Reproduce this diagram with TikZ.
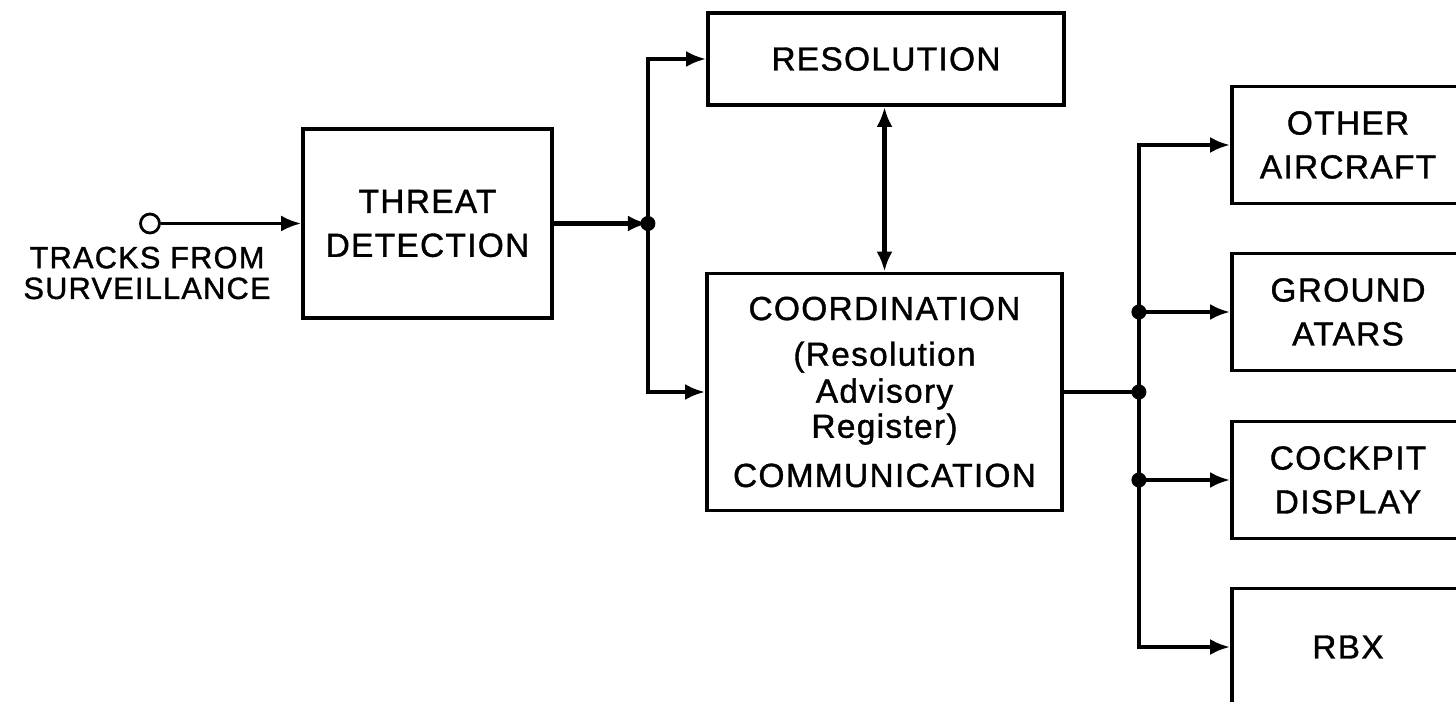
\documentclass[tikz,border=0pt]{standalone}
\usepackage{fontspec}
\setmainfont{Liberation Sans}[LetterSpace=4.0,FakeBold=1.2]
\usetikzlibrary{arrows.meta}
\tikzset{
  blk/.style={draw,line width=2.2pt,align=center,inner sep=2pt,
    font=\fontsize{19}{25}\selectfont},
  sink/.style={blk,minimum width=4.64cm,minimum height=2.34cm},
  conn/.style={line width=2.4pt,->},
  jdot/.style={circle,fill,inner sep=0pt,minimum size=0.3cm},
}

\begin{document}
\begin{tikzpicture}[x=0.02cm,y=-0.02cm,>={Latex[length=4mm,width=3.2mm]}]
  \useasboundingbox (0,0) rectangle (1456,702);
  \clip (0,0) rectangle (1456,702);
  % input
  \node[circle,draw,line width=1.6pt,inner sep=0pt,minimum size=0.38cm] (src) at (150,223.5) {};
  \node[align=center,font=\fontsize{17.5}{17.5}\selectfont] (trk) at (147,273) {TRACKS FROM\\SURVEILLANCE};
  \node[blk,minimum width=4.98cm,minimum height=3.78cm] (TD) at (427.5,223.5) {THREAT\\DETECTION};
  \node[blk,minimum width=7.12cm,minimum height=1.84cm] (RES) at (886,59) {RESOLUTION};
  \node[blk,minimum width=7.1cm,minimum height=4.74cm] (CO) at (884.5,392)
    {COORDINATION\\[1pt](Resolution\\[-4pt]Advisory\\[-5pt]Register)\\[3pt]COMMUNICATION};
  % outputs
  \node[sink] (OA) at (1348,145) {OTHER\\AIRCRAFT};
  \node[sink] (GA) at (1348,312) {GROUND\\ATARS};
  \node[sink] (CD) at (1348,480) {COCKPIT\\DISPLAY};
  \node[sink] (RBX) at (1348,647) {RBX};

  \draw[line width=1.8pt,->] (src) -- (TD.west);
  \path (TD.east) ++(94,0) coordinate (J1);
  \draw[conn] (TD.east) -- (J1);
  \draw[conn] (J1) |- (RES.west);
  \draw[conn] (J1) |- (CO.west);
  \draw[conn,<->] (CO.north) -- (CO.north |- RES.south);
  \node[jdot] at (J1) {};

  \path (CO.east) ++(75,0) coordinate (J2);
  \draw[line width=2.4pt] (CO.east) -- (J2);
  \draw[conn] (J2) |- (OA.west);
  \draw[conn] (J2) |- (RBX.west);
  \draw[conn] (J2 |- GA.west) -- (GA.west);
  \draw[conn] (J2 |- CD.west) -- (CD.west);
  \foreach \j in {(J2),(J2 |- GA.west),(J2 |- CD.west)}
    \node[jdot] at \j {};
\end{tikzpicture}
\end{document}
